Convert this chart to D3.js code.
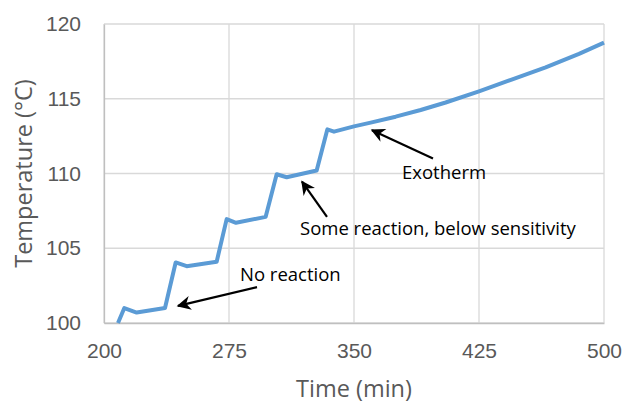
<!DOCTYPE html>
<html>
<head>
<meta charset="utf-8">
<script src="https://cdn.jsdelivr.net/npm/d3@7"></script>
<style>
  body { margin: 0; background: #fff; }
  svg { display: block; font-family: "Open Sans", sans-serif; }
  .grid line { stroke: #d9d9d9; stroke-width: 1.3; }
  .tick text { fill: #595959; font-size: 21px; }
  .axis-title { fill: #595959; font-size: 23.5px; }
  .note { fill: #000; font-size: 18.5px; }
</style>
</head>
<body>
<svg id="chart"></svg>
<script>
// Data
const times = [208.4, 212.2, 219.6, 236.6, 243.0, 249.6, 267.6, 273.6, 279.2, 297.0, 303.6, 309.6, 327.6, 334.0, 338.0, 350, 360, 375, 390, 405, 425, 445, 465, 485, 500];
const temps = [100.0, 101.0, 100.7, 101.0, 104.05, 103.8, 104.1, 106.95, 106.7, 107.1, 109.95, 109.75, 110.2, 112.95, 112.8, 113.15, 113.4, 113.8, 114.25, 114.75, 115.5, 116.3, 117.1, 118.0, 118.75];
const xTicks = [200, 275, 350, 425, 500];
const yTicks = [100, 105, 110, 115, 120];

// Annotations: label, text start (time, temp), arrow tail and tip (time, temp)
const noteLabels = ["No reaction", "Some reaction, below sensitivity", "Exotherm"];
const noteText = [[281.6, 102.8], [317.6, 105.9], [378.8, 109.65]];
const arrowTail = [[291.8, 102.4], [333.8, 107.1], [397.4, 111.0]];
const arrowTip = [[244.4, 101.15], [318.8, 109.45], [360.8, 112.9]];

const width = 624;
const height = 405;
const margin = { top: 24, right: 20, bottom: 82, left: 104 };

const svg = d3.select("#chart")
  .attr("width", width)
  .attr("height", height);

const x = d3.scaleLinear()
  .domain([200, 500])
  .range([margin.left, width - margin.right]);

const y = d3.scaleLinear()
  .domain([100, 120])
  .range([height - margin.bottom, margin.top]);

// Gridlines
svg.append("g")
  .attr("class", "grid")
  .selectAll("line.v")
  .data(xTicks)
  .enter()
  .append("line")
  .attr("x1", d => x(d))
  .attr("x2", d => x(d))
  .attr("y1", y(120))
  .attr("y2", y(100));

svg.append("g")
  .attr("class", "grid")
  .selectAll("line.h")
  .data(yTicks)
  .enter()
  .append("line")
  .attr("x1", x(200))
  .attr("x2", x(500))
  .attr("y1", d => y(d))
  .attr("y2", d => y(d));

// Axes (labels only, the grid draws the lines)
const xAxis = d3.axisBottom(x).tickValues(xTicks).tickSize(0).tickPadding(20);
const yAxis = d3.axisLeft(y).tickValues(yTicks).tickSize(0).tickPadding(23);

svg.append("g")
  .attr("transform", "translate(0," + y(100) + ")")
  .call(xAxis)
  .call(g => g.select(".domain").attr("stroke", "#bfbfbf").attr("stroke-width", 1.3))
  .selectAll("text").attr("font-family", null).attr("font-size", null);

svg.append("g")
  .attr("transform", "translate(" + x(200) + ",0)")
  .call(yAxis)
  .call(g => g.select(".domain").attr("stroke", "#bfbfbf").attr("stroke-width", 1.3))
  .selectAll("text").attr("font-family", null).attr("font-size", null);

svg.selectAll(".tick text").attr("fill", null);

// Axis titles
svg.append("text")
  .attr("class", "axis-title")
  .attr("x", (x(200) + x(500)) / 2)
  .attr("y", 397)
  .attr("text-anchor", "middle")
  .text("Time (min)");

svg.append("text")
  .attr("class", "axis-title")
  .attr("transform", "translate(32," + (y(100) + y(120)) / 2 + ") rotate(-90)")
  .attr("text-anchor", "middle")
  .text("Temperature (°C)");

// Temperature trace
const points = times.map((t, i) => [t, temps[i]]);
const line = d3.line()
  .x(d => x(d[0]))
  .y(d => y(d[1]));

svg.append("path")
  .datum(points)
  .attr("fill", "none")
  .attr("stroke", "#5b9bd5")
  .attr("stroke-width", 4)
  .attr("stroke-linejoin", "round")
  .attr("d", line);

// Arrow head
svg.append("defs")
  .append("marker")
  .attr("id", "head")
  .attr("viewBox", "0 0 10 10")
  .attr("refX", 9)
  .attr("refY", 5)
  .attr("markerUnits", "userSpaceOnUse")
  .attr("markerWidth", 17)
  .attr("markerHeight", 14)
  .attr("orient", "auto")
  .append("path")
  .attr("d", "M0,0 L10,5 L0,10 L3,5 Z")
  .attr("fill", "#000");

svg.selectAll(".arrow")
  .data(arrowTail)
  .enter()
  .append("line")
  .attr("class", "arrow")
  .attr("x1", d => x(d[0]))
  .attr("y1", d => y(d[1]))
  .attr("x2", (d, i) => x(arrowTip[i][0]))
  .attr("y2", (d, i) => y(arrowTip[i][1]))
  .attr("stroke", "#000")
  .attr("stroke-width", 2.2)
  .attr("marker-end", "url(#head)");

svg.selectAll(".note")
  .data(noteLabels)
  .enter()
  .append("text")
  .attr("class", "note")
  .attr("x", (d, i) => x(noteText[i][0]))
  .attr("y", (d, i) => y(noteText[i][1]))
  .text(d => d);
</script>
</body>
</html>
